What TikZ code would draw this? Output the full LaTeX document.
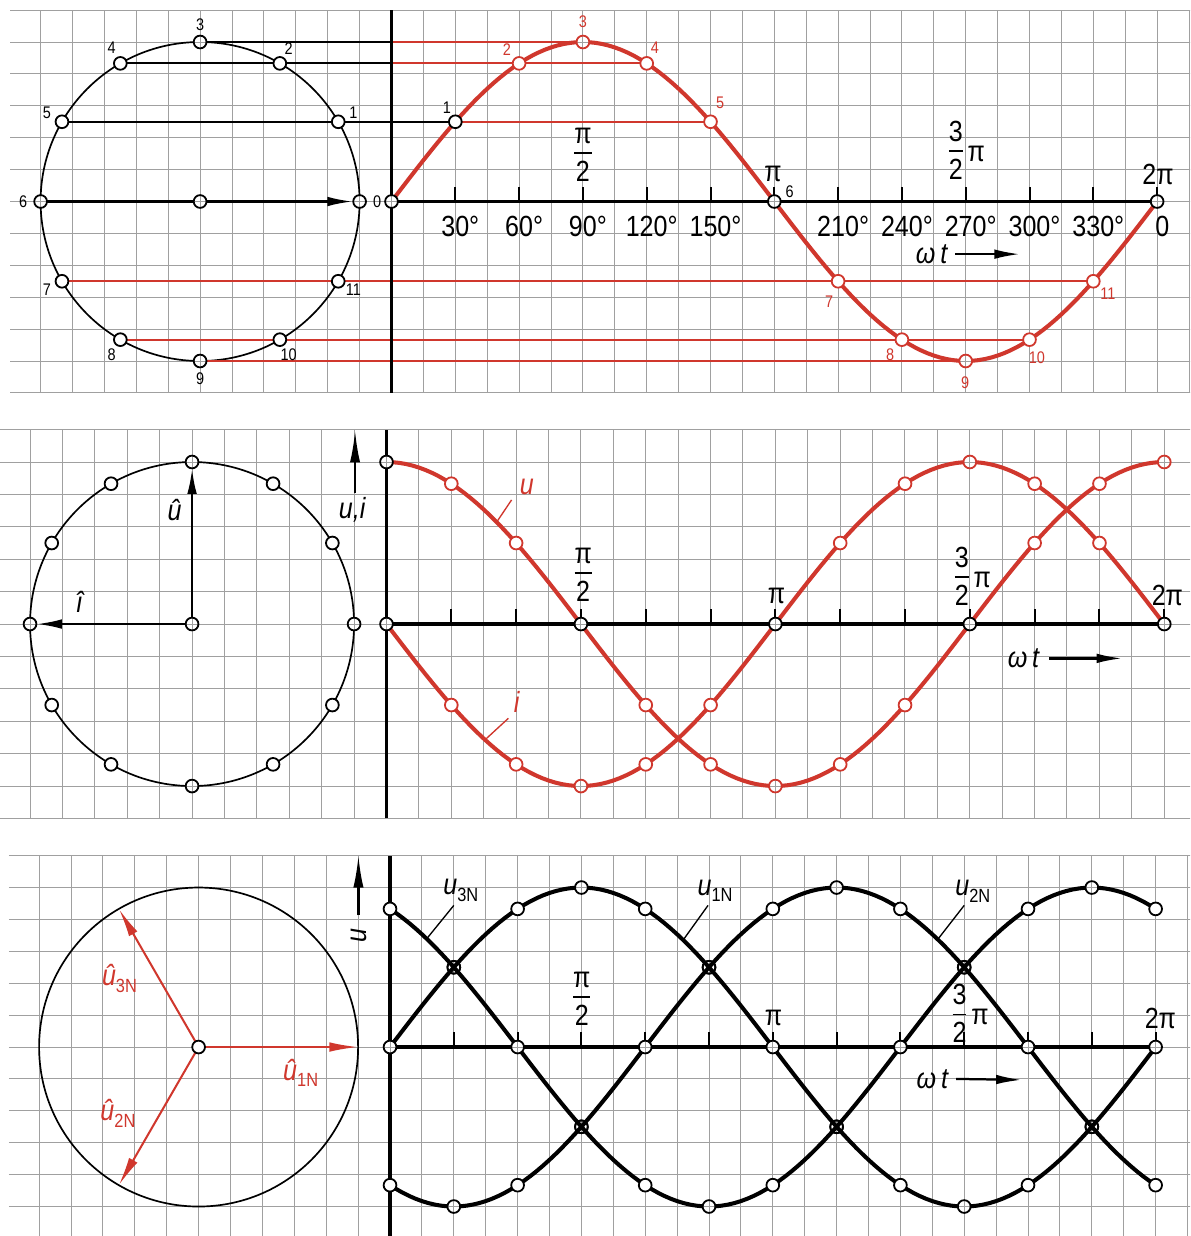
\documentclass[tikz,border=0pt]{standalone}
\usepackage{fontspec}
\setmainfont{Liberation Sans}[FakeStretch=0.86]
\usepackage{xcolor}
\usepackage{tikz}
\usetikzlibrary{arrows.meta}

\definecolor{rot}{RGB}{208,55,45}
\definecolor{gridc}{RGB}{160,160,160}

\tikzstyle{gridl}=[gridc, line width=0.8pt]
\tikzstyle{axisl}=[line width=2.8pt]
\tikzstyle{ring}=[line width=1.5pt]
\tikzstyle{proj}=[line width=1.8pt]
\tikzstyle{wave}=[line width=3.6pt]
\tikzstyle{tickl}=[line width=1.8pt]
\tikzstyle{lead}=[line width=1.2pt]
\tikzstyle{arr}=[line width=2.2pt, -{Latex[length=0.8cm,width=0.3cm]}]
\tikzstyle{yarr}=[line width=2pt, -{Latex[length=1cm,width=0.32cm]}]
\tikzstyle{parr}=[rot, line width=1.8pt, -{Latex[length=0.9cm,width=0.3cm]}]
\tikzstyle{pnt}=[circle, draw, fill=white, line width=1.6pt, inner sep=0pt, minimum size=0.4cm]
\tikzstyle{rpnt}=[pnt, draw=rot]
\tikzstyle{pnto}=[pnt, fill=none]
\tikzstyle{pntx}=[pnt, path picture={\draw[gridl] (path picture bounding box.north) -- (path picture bounding box.south) (path picture bounding box.west) -- (path picture bounding box.east);}]
\tikzstyle{rpntx}=[pntx, draw=rot]
\tikzstyle{num}=[font=\fontsize{15}{15}\selectfont, inner sep=0pt]
\tikzstyle{lbl}=[font=\fontsize{26}{26}\selectfont, inner sep=0pt]
\tikzstyle{ilbl}=[font=\fontsize{26}{26}\selectfont\itshape, inner sep=0pt]

\newcommand{\fracstack}[2]{{\setlength{\arrayrulewidth}{1.6pt}\begin{tabular}{@{}c@{}}\rule[-7pt]{0pt}{1pt}#1\\\hline\rule{0pt}{24.6pt}#2\end{tabular}}}
\newcommand{\lowidx}[1]{\raisebox{-6pt}{\fontsize{17}{17}\selectfont\upshape #1}}

\begin{document}
\begin{tikzpicture}

  \useasboundingbox (-12.273,-32.429) rectangle (25.031,6.317);
  \clip (-12.273,-32.429) rectangle (25.031,6.317);
  \fill[white] (-12.273,-32.429) rectangle (25.031,6.317);

  % ---------------- panel 1: pointer and sine ----------------
  \begin{scope}
    \draw[gridl] (-11.95,-6) grid (25.5,6);
    \coordinate (o) at (0,0);
    \coordinate (ytop) at (0,6);
    \coordinate (ybot) at (0,-6);
    \coordinate (xend) at (24,0);
    \coordinate (cc) at (-6,0);
    \foreach \k in {0,...,11} \coordinate (c\k) at ({-6+5*cos(30*\k)},{5*sin(30*\k)});
    \foreach \k in {0,...,12} \coordinate (w\k) at (2*\k,{5*sin(30*\k)});
    \draw[ring] (cc) circle (5);

    % projection lines
    \draw[proj, line width=2.2pt] (c3) -- (c3 -| o);
    \draw[proj, rot] (c3 -| o) -- (w3);
    \draw[proj] (c4) -- (c4 -| o);
    \draw[proj, rot] (c4 -| o) -- (w4);
    \draw[proj] (c5) -- (w1);
    \draw[proj, rot] (w1) -- (w5);
    \draw[proj, rot] (c7) -- (w11);
    \draw[proj, rot] (c8) -- (w10);
    \draw[proj, rot] (c9) -- (w9);

    % axes
    \draw[axisl] (ybot) -- (ytop);
    \draw[axisl] (o) -- (xend);
    \foreach \x in {2,4,...,24} \draw[tickl] (\x,0) -- (\x,0.47);
    \draw[arr, shorten >=0.21cm] (c6) -- (c0);

    % sine
    \draw[wave, rot] plot[domain=0:24, samples=121] (\x,{5*sin(15*\x)});

    % points
    \foreach \k in {1,2,4,5,7,8,10,11} \node[pnt] (mc\k) at (c\k) {};
    \foreach \k in {0,3,6,9} \node[pntx] (mc\k) at (c\k) {};
    \node[pntx] (mcc) at (cc) {};
    \foreach \k in {0,6,12} \node[pntx] (mw\k) at (w\k) {};
    \node[pnt] (mw1) at (w1) {};
    \foreach \k in {2,4,5,7,8,10,11} \node[rpnt] (mw\k) at (w\k) {};
    \foreach \k in {3,9} \node[rpntx] (mw\k) at (w\k) {};

    % labels
    \foreach \k in {0,...,11} \node[num] (nc\k) at ({-6+5.55*cos(30*\k)},{5.55*sin(30*\k)}) {\k};
    \node[num] (nw1) at (1.74,2.93) {1};
    \node[num] (nw6) at (12.48,0.3) {6};
    \foreach \k/\dx/\dy in {2/-0.38/0.42, 3/0/0.63, 4/0.26/0.5, 5/0.3/0.59, 7/-0.28/-0.65,
                            8/-0.37/-0.48, 9/-0.02/-0.69, 10/0.23/-0.58, 11/0.46/-0.4}
      \node[num, rot] (nw\k) at ({2*\k+\dx},{5*sin(30*\k)+\dy}) {\k};
    \foreach \d in {30,60,90,120,150,210,240,270,300,330}
      \node[lbl, anchor=base] (deg\d) at ({\d/15},-1.11) {\d\rlap{°}};
    \node[lbl, anchor=base] (zero) at (24.16,-1.11) {0};
    \node[lbl] (half) at (6,1.41) {\fracstack{π}{2}};
    \node[lbl] (pi) at (11.96,0.86) {π};
    \node[lbl] (threehalf) at (18.04,1.46) {\fracstack{3}{2}\,π};
    \node[lbl] (twopi) at (24.03,0.85) {2π};
    \node[ilbl] (wt) at (16.93,-1.65) {ω\,t};
    \coordinate (wtend) at (19.7,-1.65);
    \draw[arr, line width=2pt] ([xshift=0.25cm]wt.east) -- (wtend);
  \end{scope}

  % ---------------- panel 2: voltage and current ----------------
  \begin{scope}[shift={(-0.157,-13.245)}, scale=1.0157]
    \draw[gridl] (-11.95,-6) grid (25.5,6);
    \coordinate (o2) at (0,0);
    \coordinate (ytop2) at (0,6);
    \coordinate (ybot2) at (0,-6);
    \coordinate (xend2) at (24,0);
    \coordinate (cc2) at (-6,0);
    \foreach \k in {0,...,11} \coordinate (d\k) at ({-6+5*cos(30*\k)},{5*sin(30*\k)});
    \foreach \k in {0,...,12} {
      \coordinate (u\k) at (2*\k,{5*cos(30*\k)});
      \coordinate (i\k) at (2*\k,{-5*sin(30*\k)});
    }
    \draw[ring] (cc2) circle (5);

    % axes
    \draw[axisl] (ybot2) -- (ytop2);
    \draw[axisl] (o2) -- (xend2);
    \foreach \x in {2,4,...,24} \draw[tickl] (\x,0) -- (\x,0.47);
    \coordinate (uia) at (-0.97,4.04);
    \coordinate (uib) at (-0.97,5.97);
    \draw[yarr] (uia) -- (uib);

    % pointers
    \draw[arr, shorten >=0.2cm] (cc2) -- (d3);
    \draw[arr, shorten >=0.2cm] (cc2) -- (d6);

    % curves
    \draw[wave, rot] plot[domain=0:24, samples=121] (\x,{5*cos(15*\x)});
    \draw[wave, rot] plot[domain=0:24, samples=121] (\x,{-5*sin(15*\x)});
    \coordinate (ucut) at (3.4,{5*cos(51)});
    \coordinate (uend) at (3.86,3.83);
    \coordinate (icut) at (3.04,{-5*sin(45.6)});
    \coordinate (iend) at (3.76,-2.91);
    \draw[lead, rot] (ucut) -- (uend);
    \draw[lead, rot] (icut) -- (iend);

    % points
    \foreach \k in {1,2,4,5,7,8,10,11} \node[pnt] (md\k) at (d\k) {};
    \foreach \k in {0,3,6,9} \node[pntx] (md\k) at (d\k) {};
    \node[pntx] (mcc2) at (cc2) {};
    \foreach \k in {1,2,4,5,7,8,10,11} {
      \node[rpnt] (mu\k) at (u\k) {};
      \node[rpnt] (mi\k) at (i\k) {};
    }
    \foreach \k in {0,3,9} \node[pntx] (mu\k) at (u\k) {};
    \foreach \k in {6,12} \node[rpntx] (mu\k) at (u\k) {};
    \foreach \k in {0,6,12} \node[pntx] (mi\k) at (i\k) {};
    \foreach \k in {3,9} \node[rpntx] (mi\k) at (i\k) {};

    % labels
    \node[ilbl] (uhat) at (-6.54,3.51) {û};
    \node[ilbl] (ihat) at (-9.48,0.69) {î};
    \node[ilbl] (uilab) at (-1.06,3.52) {u,i};
    \node[ilbl, rot] (ulab) at (4.33,4.22) {u};
    \node[ilbl, rot] (ilab) at (4.02,-2.4) {i};
    \node[lbl] (half2) at (6.07,1.46) {\fracstack{π}{2}};
    \node[lbl] (pi2) at (12.04,0.88) {π};
    \node[lbl] (threehalf2) at (18.1,1.33) {\fracstack{3}{2}\,π};
    \node[lbl] (twopi2) at (24.1,0.88) {2π};
    \node[ilbl] (wt2) at (19.66,-1.06) {ω\,t};
    \coordinate (wtend2) at (22.7,-1.06);
    \draw[arr, line width=2pt] ([xshift=0.3cm]wt2.east) -- (wtend2);
  \end{scope}

  % ---------------- panel 3: three-phase system ----------------
  \begin{scope}[shift={(-0.047,-26.505)}]
    \draw[gridl] (-11.95,-6) grid (25.5,6);
    \coordinate (o3) at (0,0);
    \coordinate (ytop3) at (0,6);
    \coordinate (ybot3) at (0,-6);
    \coordinate (xend3) at (24,0);
    \coordinate (cc3) at (-6,0);
    \foreach \a/\n in {0/1, 240/2, 120/3} \coordinate (v\n) at ({-6+5*cos(\a)},{5*sin(\a)});
    \foreach \k in {0,...,12} {
      \coordinate (one-\k) at (2*\k,{5*sin(30*\k)});
      \coordinate (two-\k) at (2*\k,{5*sin(30*\k-120)});
      \coordinate (three-\k) at (2*\k,{5*sin(30*\k+120)});
    }
    \draw[ring] (cc3) circle (5);

    % axes
    \draw[axisl] (ybot3) -- (ytop3);
    \draw[axisl] (o3) -- (xend3);
    \foreach \x in {2,4,...,24} \draw[tickl] (\x,0) -- (\x,0.47);
    \coordinate (ua) at (-0.99,4.13);
    \coordinate (ub) at (-0.99,6.0);
    \draw[yarr] (ua) -- (ub);

    % pointers
    \draw[parr] (cc3) -- (v1);
    \draw[parr] (cc3) -- (v2);
    \draw[parr] (cc3) -- (v3);

    % curves
    \draw[wave] plot[domain=0:24, samples=121] (\x,{5*sin(15*\x)});
    \draw[wave] plot[domain=0:24, samples=121] (\x,{5*sin(15*\x-120)});
    \draw[wave] plot[domain=0:24, samples=121] (\x,{5*sin(15*\x+120)});
    \coordinate (cut3) at (1.15,{5*sin(17.25+120)});
    \coordinate (end3) at (2.0,4.44);
    \coordinate (cut1) at (9.19,{5*sin(137.85)});
    \coordinate (end1) at (9.97,4.44);
    \coordinate (cut2) at (17.17,{5*sin(257.55-120)});
    \coordinate (end2) at (18.0,4.44);
    \draw[lead] (cut3) -- (end3);
    \draw[lead] (cut1) -- (end1);
    \draw[lead] (cut2) -- (end2);

    % points
    \node[pnt] (mcc3) at (cc3) {};
    \foreach \k in {2,4,8,10} \node[pnt] (mone\k) at (one-\k) {};
    \foreach \k in {1,5,7,11} \node[pnto] (mone\k) at (one-\k) {};
    \foreach \k in {0,3,6,9,12} \node[pntx] (mone\k) at (one-\k) {};
    \foreach \k in {0,2,6,8,12} \node[pnt] (mtwo\k) at (two-\k) {};
    \foreach \k in {3,5,9,11} \node[pnto] (mtwo\k) at (two-\k) {};
    \foreach \k in {1,4,7,10} \node[pntx] (mtwo\k) at (two-\k) {};
    \foreach \k in {0,4,6,10,12} \node[pnt] (mthree\k) at (three-\k) {};
    \foreach \k in {1,3,7,9} \node[pnto] (mthree\k) at (three-\k) {};
    \foreach \k in {2,5,8,11} \node[pntx] (mthree\k) at (three-\k) {};

    % labels
    \node[ilbl, rot] (u1hat) at (-2.8,-0.81) {û\lowidx{1N}};
    \node[ilbl, rot] (u3hat) at (-8.48,2.16) {û\lowidx{3N}};
    \node[ilbl, rot] (u2hat) at (-8.53,-2.08) {û\lowidx{2N}};
    \node[ilbl, rotate=90] (ulab3) at (-0.98,3.5) {u};
    \node[ilbl] (l3) at (2.22,4.9) {u\lowidx{3N}};
    \node[ilbl] (l1) at (10.19,4.9) {u\lowidx{1N}};
    \node[ilbl] (l2) at (18.27,4.88) {u\lowidx{2N}};
    \node[lbl] (half3) at (6.01,1.46) {\fracstack{π}{2}};
    \node[lbl] (pi3) at (12.02,0.91) {π};
    \node[lbl] (threehalf3) at (18.2,0.91) {\fracstack{3}{2}\,π};
    \node[lbl] (twopi3) at (24.15,0.91) {2π};
    \node[ilbl] (wt3) at (17.0,-1.0) {ω\,t};
    \coordinate (wtend3) at (19.8,-1.03);
    \draw[arr, line width=2pt] ([xshift=0.25cm]wt3.east) -- (wtend3);
  \end{scope}

\end{tikzpicture}
\end{document}
